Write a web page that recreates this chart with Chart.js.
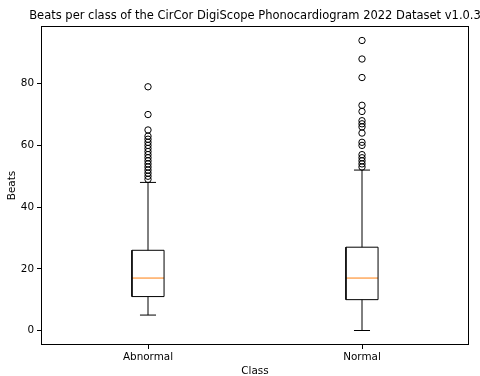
<!DOCTYPE html>
<html>
<head>
<meta charset="utf-8">
<script src="https://cdn.jsdelivr.net/npm/chart.js@4"></script>
<style>
  html, body { margin: 0; padding: 0; background: #fff; }
</style>
</head>
<body>
<canvas id="beats-chart" width="480" height="376"></canvas>
<script>
// the numbers
const classes = ['Abnormal', 'Normal'];
const q1 = [11, 10];
const medians = [17, 17];
const q3 = [26, 27];
const whiskerLow = [5, 0];
const whiskerHigh = [48, 52];
const outliersAbnormal = [49, 50, 51, 52, 53, 54, 55, 56, 57, 58, 59, 60, 61, 62, 63, 65, 70, 79];
const outliersNormal = [53, 54, 55, 56, 57, 60, 61, 64, 66, 67, 68, 71, 73, 82, 88, 94];
const outliers = [outliersAbnormal, outliersNormal];
const yTicks = [0, 20, 40, 60, 80];

const boxWidth = 0.15;
const black = '#000000';
const orange = '#ff7f0e';

function lineSet(points, color) {
    return {
        data: points,
        showLine: true,
        borderColor: color,
        borderWidth: 1,
        pointRadius: 0,
        fill: false
    };
}

// build the box, whiskers, caps, median and fliers for every class
let datasets = [];
classes.forEach(function (name, i) {
    const x = i + 1;
    const h = boxWidth / 2;
    const c = boxWidth / 4;
    datasets.push(lineSet([
        { x: x - h, y: q1[i] }, { x: x + h, y: q1[i] },
        { x: x + h, y: q3[i] }, { x: x - h, y: q3[i] },
        { x: x - h, y: q1[i] }
    ], black));
    datasets.push(lineSet([{ x: x, y: whiskerLow[i] }, { x: x, y: q1[i] }], black));
    datasets.push(lineSet([{ x: x, y: q3[i] }, { x: x, y: whiskerHigh[i] }], black));
    datasets.push(lineSet([{ x: x - c, y: whiskerLow[i] }, { x: x + c, y: whiskerLow[i] }], black));
    datasets.push(lineSet([{ x: x - c, y: whiskerHigh[i] }, { x: x + c, y: whiskerHigh[i] }], black));
    datasets.push(lineSet([{ x: x - h, y: medians[i] }, { x: x + h, y: medians[i] }], orange));
    datasets.push({
        data: outliers[i].map(function (v) { return { x: x, y: v }; }),
        showLine: false,
        pointStyle: 'circle',
        pointRadius: 3.2,
        pointBorderWidth: 1,
        pointBorderColor: black,
        pointBackgroundColor: 'rgba(0,0,0,0)'
    });
});

// full frame round the plot and a title centred over it
const framePlugin = {
    id: 'frame',
    afterDraw(chart) {
        const a = chart.chartArea;
        const ctx = chart.ctx;
        ctx.save();
        ctx.strokeStyle = black;
        ctx.lineWidth = 1;
        ctx.strokeRect(Math.round(a.left) + 0.5, Math.round(a.top) + 0.5,
            Math.round(a.right - a.left) - 1, Math.round(a.bottom - a.top) - 1);
        ctx.fillStyle = black;
        ctx.font = '11.5px "DejaVu Sans"';
        ctx.textAlign = 'center';
        ctx.textBaseline = 'middle';
        ctx.fillText('Beats per class of the CirCor DigiScope Phonocardiogram 2022 Dataset v1.0.3',
            (a.left + a.right) / 2, 16);
        ctx.restore();
    }
};

Chart.defaults.font.family = '"DejaVu Sans"';
Chart.defaults.font.size = 10.4;
Chart.defaults.color = black;

var ctx = document.getElementById('beats-chart');

new Chart(ctx, {
    type: 'scatter',
    data: { datasets: datasets },
    options: {
        responsive: false,
        animation: false,
        layout: { padding: { top: 26, right: 11, bottom: 0, left: 0 } },
        plugins: {
            legend: { display: false },
            tooltip: { enabled: false }
        },
        scales: {
            x: {
                type: 'linear',
                min: 0.5,
                max: 2.5,
                afterBuildTicks: function (scale) {
                    scale.ticks = classes.map(function (n, i) { return { value: i + 1 }; });
                },
                afterFit: function (scale) { scale.height = 31; },
                ticks: {
                    padding: 2,
                    maxRotation: 0,
                    callback: function (v) { return classes[v - 1] || ''; }
                },
                grid: { drawOnChartArea: false, drawTicks: true, tickLength: 4, color: black },
                border: { display: false },
                title: { display: true, text: 'Class', padding: { top: 0, bottom: -2 } }
            },
            y: {
                min: -4.7,
                max: 98.7,
                afterBuildTicks: function (scale) {
                    scale.ticks = yTicks.map(function (v) { return { value: v }; });
                },
                afterFit: function (scale) { scale.width = 41; },
                ticks: { padding: 3 },
                grid: { drawOnChartArea: false, drawTicks: true, tickLength: 4, color: black },
                border: { display: false },
                title: { display: true, text: 'Beats', padding: { top: 6, bottom: 0 } }
            }
        }
    },
    plugins: [framePlugin]
});
</script>
</body>
</html>
